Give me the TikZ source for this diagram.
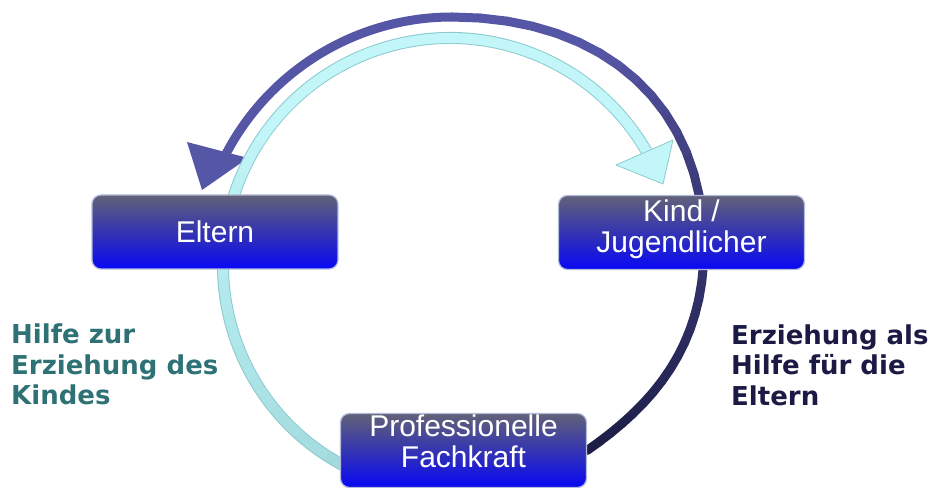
\documentclass[tikz,border=0pt]{standalone}
\usepackage{fontspec}
\setmainfont{Liberation Sans}
\newfontfamily\sidefont{DejaVu Sans}
\usetikzlibrary{backgrounds}

\definecolor{arcdark}{RGB}{86,86,166}
\definecolor{arcnavy}{RGB}{28,30,70}
\definecolor{arclight}{RGB}{194,246,248}
\definecolor{arcteal}{RGB}{162,218,222}
\definecolor{arcedge}{RGB}{140,202,207}
\definecolor{boxtop}{RGB}{98,98,120}
\definecolor{boxmid}{RGB}{52,52,178}
\definecolor{boxbot}{RGB}{8,8,245}
\definecolor{boxedge}{RGB}{178,188,218}
\definecolor{helptext}{RGB}{46,114,118}
\definecolor{edutext}{RGB}{26,26,68}

\tikzset{
  rolebox/.style={draw=boxedge, line width=1.2pt, rounded corners=9pt,
    top color=boxtop, bottom color=boxbot, middle color=boxmid,
    minimum width=246pt, minimum height=74pt, inner sep=0pt,
    text=white, align=center, font=\fontsize{30}{31}\selectfont},
  sidetext/.style={align=left, anchor=west, inner sep=0pt,
    font=\sidefont\bfseries\fontsize{26}{30.5}\selectfont},
  darkseg/.style={line width=9pt, line cap=round},
  lightseg/.style={line width=10pt}
}

\begin{document}
\begin{tikzpicture}[x=1pt,y=1pt]
\useasboundingbox (0,0) rectangle (933,487);

% the three boxes
\node[rolebox] (eltern) at (215,255) {Eltern};
\node[rolebox, text depth=13pt] (kind) at (681.5,254.5) {Kind /\\Jugendlicher};
\node[rolebox, text depth=18pt] (fach) at (463.5,36.5) {Professionelle\\Fachkraft};

% side labels
\node[sidetext, text=helptext] (hilfe) at (11,122.4) {Hilfe zur\\Erziehung des\\Kindes};
\node[sidetext, text=edutext] (erz) at (731,122) {Erziehung als\\Hilfe f\"ur die\\Eltern};

\begin{scope}[on background layer]
% dark arc: Fachkraft -> Kind -> Eltern, navy at the bottom
\path (fach.east) .. controls (652.6,82) and (704,140) .. (704,240)
  foreach \i [evaluate=\i as \p using \i/16] in {0,...,16} {coordinate[pos=\p] (da\i)};
\path (704,240) .. controls (704,380) and (606,470) .. (452,470)
  foreach \i [evaluate=\i as \p using \i/16] in {0,...,16} {coordinate[pos=\p] (db\i)};
\foreach \i [count=\j, evaluate=\i as \mix using {int(40*\i/16)}] in {0,...,15}
  \draw[darkseg, arcdark!\mix!arcnavy] (da\i) -- (da\j);
\foreach \i [count=\j, evaluate=\i as \mix using {int(min(100,40+100*\i/16))}] in {0,...,15}
  \draw[darkseg, arcdark!\mix!arcnavy] (db\i) -- (db\j);
\draw[arcdark, line width=9pt] (db16) arc[start angle=90, end angle=153, radius=255];
\fill[arcdark] (187,345) -- (248,329) -- (202,297) -- cycle;

% light arc: Fachkraft -> Eltern -> Kind, teal at the bottom
\draw[arcedge, line width=12pt] (450,222) ++(246:227) arc[start angle=246, end angle=30, radius=227];
\foreach \a [evaluate=\a as \mix using {int(min(100,246-\a))}] in {246,237,...,39}
  \draw[lightseg, arclight!\mix!arcteal] (450,222) ++(\a:227) arc[start angle=\a, delta angle=-9.5, radius=227];
\filldraw[fill=arclight, draw=arcedge, line width=0.8pt, line join=round]
  (616,322) -- (673,347) -- (663,303) -- cycle;
\end{scope}

\end{tikzpicture}
\end{document}
